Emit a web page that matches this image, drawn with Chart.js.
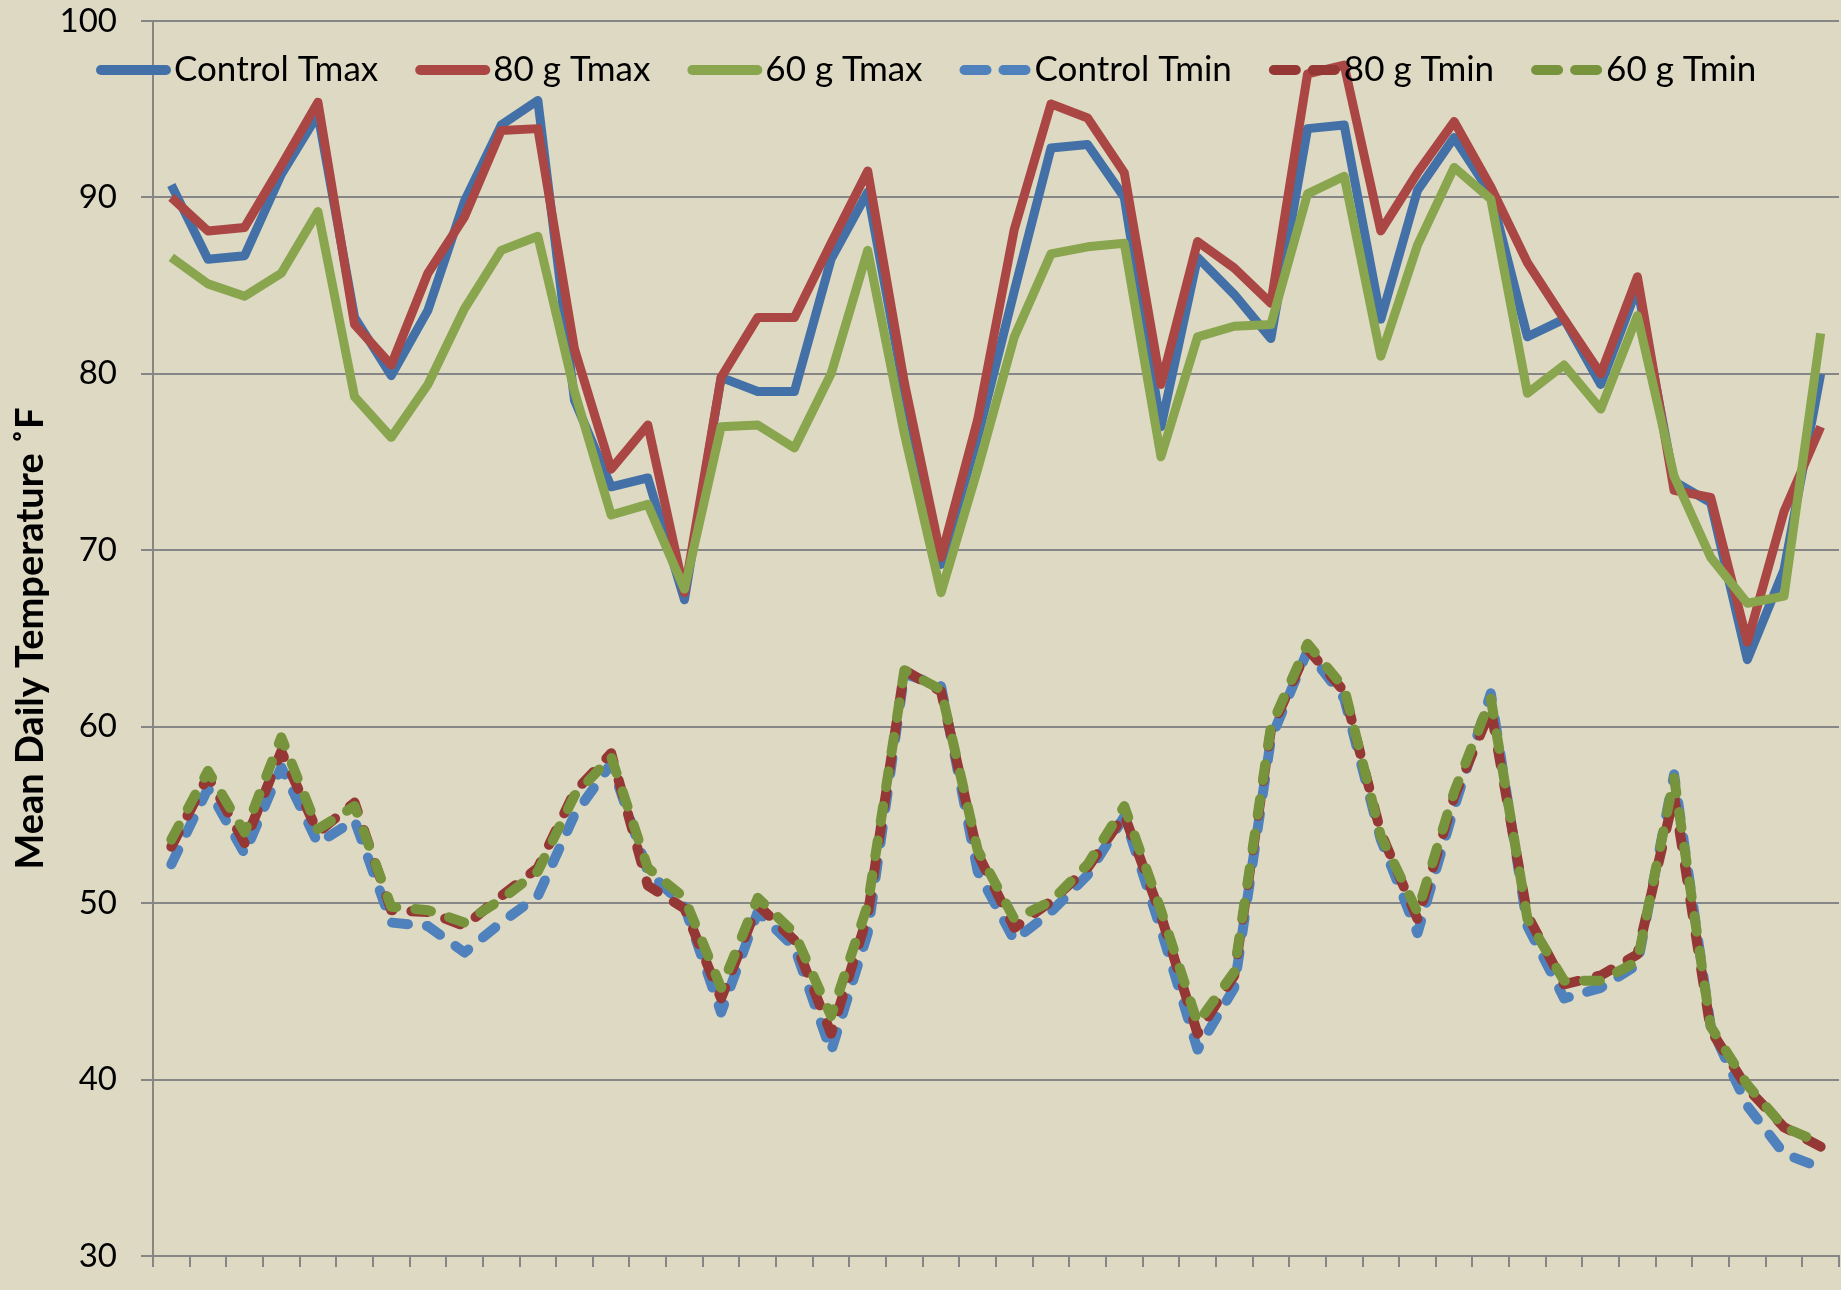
<!DOCTYPE html>
<html>
<head>
<meta charset="utf-8">
<script src="https://cdn.jsdelivr.net/npm/chart.js@4.4.1/dist/chart.umd.min.js"></script>
<style>
  html, body { margin: 0; padding: 0; background: #ddd9c3; }
  #wrap { width: 1841px; height: 1290px; position: relative; }
</style>
</head>
<body>
<div id="wrap"><canvas id="tempChart"></canvas></div>
<script>
// days of the trial (no labels shown on the x axis)
const days = [1, 2, 3, 4, 5, 6, 7, 8, 9, 10, 11, 12, 13, 14, 15, 16, 17, 18, 19, 20, 21, 22, 23,
  24, 25, 26, 27, 28, 29, 30, 31, 32, 33, 34, 35, 36, 37, 38, 39, 40, 41, 42, 43, 44, 45, 46];

const seriesNames = ['Control Tmax', '80 g Tmax', '60 g Tmax', 'Control Tmin', '80 g Tmin', '60 g Tmin'];

const controlTmax = [90.7, 86.5, 86.7, 91.3, 94.7, 83.2, 79.9, 83.6, 89.8, 94.1, 95.5, 78.5, 73.6, 74.1, 67.2, 79.8,
  79.0, 79.0, 86.5, 90.3, 79.0, 69.2, 76.4, 84.7, 92.8, 93.0, 90.0, 77.0, 86.6, 84.5, 82.0, 93.9, 94.1, 83.1, 90.4,
  93.4, 90.2, 82.1, 83.1, 79.4, 84.9, 73.9, 72.7, 63.8, 68.9, 80.0];
const g80Tmax = [90.0, 88.1, 88.3, 91.8, 95.4, 82.8, 80.5, 85.7, 88.9, 93.8, 93.9, 81.4, 74.6, 77.1, 67.6, 79.8,
  83.2, 83.2, 87.4, 91.5, 79.5, 69.6, 77.4, 88.2, 95.3, 94.5, 91.4, 79.4, 87.5, 86.0, 84.0, 97.0, 97.5, 88.1, 91.4,
  94.3, 90.6, 86.3, 83.1, 80.0, 85.5, 73.4, 73.0, 64.8, 72.2, 77.0];
const g60Tmax = [86.6, 85.1, 84.4, 85.7, 89.2, 78.7, 76.4, 79.4, 83.7, 87.0, 87.8, 79.0, 72.0, 72.6, 67.8, 77.0,
  77.1, 75.8, 80.0, 87.0, 76.6, 67.6, 74.6, 82.1, 86.8, 87.2, 87.4, 75.3, 82.1, 82.7, 82.8, 90.2, 91.2, 81.0, 87.3,
  91.7, 89.9, 78.9, 80.5, 78.0, 83.3, 74.2, 69.6, 67.0, 67.4, 82.3];

const controlTmin = [52.2, 56.5, 52.8, 57.7, 53.4, 54.7, 48.9, 48.7, 47.2, 48.9, 50.4, 55.0, 57.9, 51.8, 49.8, 43.8,
  49.5, 47.5, 41.6, 48.3, 63.0, 62.3, 51.8, 47.9, 49.5, 51.6, 54.9, 48.5, 41.7, 45.2, 59.3, 64.3, 61.6, 53.6, 48.3,
  55.4, 61.9, 48.7, 44.6, 45.2, 46.5, 57.3, 43.0, 38.5, 35.8, 35.0];
const g80Tmin = [53.2, 57.2, 53.4, 58.6, 54.0, 55.7, 49.6, 49.5, 48.7, 50.4, 52.0, 56.3, 58.5, 51.0, 49.7, 44.6,
  49.9, 47.9, 42.6, 49.3, 63.2, 62.0, 52.8, 48.6, 50.1, 52.0, 55.0, 49.3, 42.6, 45.9, 59.8, 64.4, 62.0, 54.0, 49.1,
  56.0, 61.0, 49.3, 45.4, 45.9, 47.1, 56.1, 42.8, 39.5, 37.3, 36.2];
const g60Tmin = [53.6, 57.5, 54.0, 59.4, 54.2, 55.5, 49.8, 49.6, 48.9, 50.2, 51.8, 56.1, 58.3, 52.0, 50.3, 45.2,
  50.3, 48.3, 43.6, 49.9, 63.2, 62.1, 53.0, 49.1, 50.1, 52.2, 55.5, 49.6, 43.2, 46.1, 60.0, 64.7, 62.2, 53.8, 49.5,
  56.3, 61.6, 49.1, 45.6, 45.6, 46.7, 57.1, 43.0, 39.7, 37.3, 36.4];

const yTicks = [30, 40, 50, 60, 70, 80, 90, 100];

const colors = ['#4470a8', '#aa4643', '#89a54e', '#4f81bd', '#953735', '#77933c'];
const allSeries = [controlTmax, g80Tmax, g60Tmax, controlTmin, g80Tmin, g60Tmin];

const datasets = allSeries.map((vals, i) => {
  const dashed = i >= 3;
  return {
    label: seriesNames[i],
    data: vals,
    borderColor: colors[i],
    backgroundColor: colors[i],
    borderWidth: dashed ? 10 : 9,
    borderDash: dashed ? [16, 19] : [],
    borderCapStyle: dashed ? 'round' : 'butt',
    borderJoinStyle: 'round',
    pointRadius: 0,
    tension: 0,
    fill: false,
    order: 6 - i   // later series on top, as in the original
  };
});

// legend drawn inside the plot, across the top
const insideLegend = {
  id: 'insideLegend',
  afterDatasetsDraw(chart) {
    const ctx = chart.ctx;
    ctx.save();
    ctx.font = '35px Lato';
    ctx.textBaseline = 'middle';
    let x = 96;
    const y = 70;
    chart.data.datasets.forEach(ds => {
      const dashed = ds.borderDash.length > 0;
      ctx.beginPath();
      ctx.lineWidth = 10;
      ctx.strokeStyle = ds.borderColor;
      ctx.lineCap = 'round';
      ctx.setLineDash(dashed ? [22, 17] : []);
      ctx.moveTo(x + 5, y);
      ctx.lineTo(x + (dashed ? 66 : 70), y);
      ctx.stroke();
      ctx.setLineDash([]);
      ctx.fillStyle = '#000';
      const tx = x + (dashed ? 75 : 78);
      ctx.fillText(ds.label, tx, y);
      x = tx + ctx.measureText(ds.label).width + 37;
    });
    ctx.restore();
  }
};

const config = {
  type: 'line',
  data: { labels: days, datasets: datasets },
  options: {
    responsive: true,
    maintainAspectRatio: false,
    animation: false,
    layout: { padding: { top: 0, right: 2, left: 0, bottom: 0 } },
    plugins: {
      legend: { display: false },
      tooltip: { enabled: false }
    },
    scales: {
      x: {
        offset: true,
        grid: {
          offset: true,
          drawOnChartArea: false,
          drawTicks: true,
          tickLength: 11,
          color: '#868686',
          lineWidth: 2
        },
        border: { display: true, color: '#868686', width: 2 },
        ticks: { display: false },
        afterFit(s) { s.height = 34; }
      },
      y: {
        min: 30,
        max: 100,
        afterBuildTicks(s) { s.ticks = yTicks.map(v => ({ value: v })); },
        ticks: {
          font: { family: 'Lato', size: 33 },
          color: '#000',
          padding: 24
        },
        grid: { color: '#868686', lineWidth: 2, tickLength: 12 },
        border: { color: '#868686', width: 2 },
        title: {
          display: true,
          text: 'Mean Daily Temperature ˚F',
          color: '#000',
          font: { family: 'Lato', size: 38, weight: 'bold' },
          padding: { top: 8, bottom: 0 }
        },
        afterFit(s) {
          s.width = 153;
          s.paddingTop = 21;
          s.paddingBottom = 0;
        }
      }
    }
  },
  plugins: [insideLegend]
};

const tempChart = new Chart(document.getElementById('tempChart'), config);
</script>
</body>
</html>
